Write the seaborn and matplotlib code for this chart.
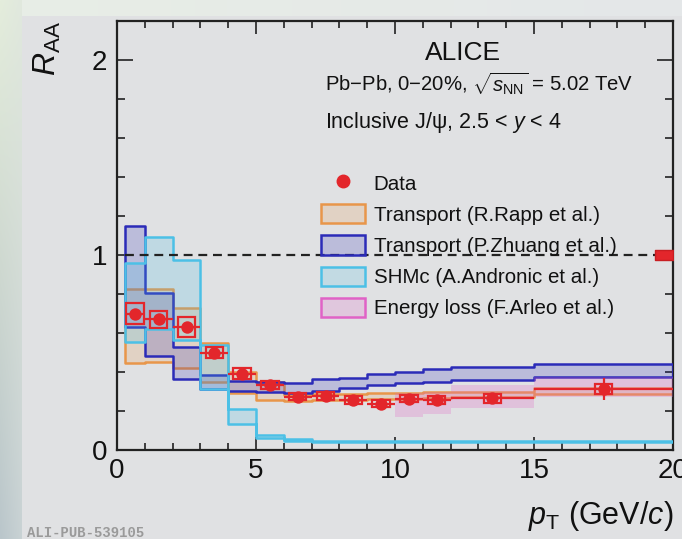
import numpy as np
import pandas as pd
import matplotlib
matplotlib.use("Agg")
import matplotlib.pyplot as plt
import seaborn as sns
from matplotlib.patches import Patch, Rectangle
from matplotlib.lines import Line2D
from matplotlib.ticker import MultipleLocator

# ---------------- data ----------------
pt_center = [0.65, 1.5, 2.5, 3.5, 4.5, 5.5, 6.5, 7.5, 8.5, 9.5, 10.5, 11.5, 13.5, 17.5]
pt_low = [0.3, 1, 2, 3, 4, 5, 6, 7, 8, 9, 10, 11, 12, 15]
pt_high = [1, 2, 3, 4, 5, 6, 7, 8, 9, 10, 11, 12, 15, 20]
raa = [0.70, 0.67, 0.63, 0.50, 0.39, 0.333, 0.274, 0.277, 0.258, 0.238, 0.264, 0.256, 0.265, 0.313]
raa_stat = [0.02, 0.02, 0.02, 0.02, 0.015, 0.012, 0.01, 0.01, 0.01, 0.012, 0.012, 0.015, 0.015, 0.057]
raa_syst = [0.055, 0.045, 0.05, 0.03, 0.028, 0.022, 0.02, 0.02, 0.02, 0.02, 0.02, 0.02, 0.022, 0.025]
global_unc = 0.025

rapp_edges = [0.3, 1, 2, 3, 4, 5, 6, 7, 8, 9, 10, 11, 12, 15, 20]
rapp_lo = [0.448, 0.453, 0.42, 0.35, 0.29, 0.256, 0.25, 0.255, 0.255, 0.26, 0.26, 0.265, 0.27, 0.286]
rapp_hi = [0.826, 0.826, 0.73, 0.55, 0.40, 0.35, 0.28, 0.285, 0.285, 0.29, 0.29, 0.295, 0.30, 0.316]

zhuang_edges = [0.3, 1, 2, 3, 4, 5, 6, 7, 8, 9, 10, 11, 12, 15, 20]
zhuang_lo = [0.63, 0.48, 0.362, 0.311, 0.304, 0.30, 0.29, 0.304, 0.316, 0.333, 0.342, 0.35, 0.359, 0.373]
zhuang_hi = [1.15, 0.807, 0.53, 0.385, 0.354, 0.35, 0.345, 0.362, 0.371, 0.388, 0.40, 0.414, 0.424, 0.441]

shmc_edges = [0.3, 1, 2, 3, 4, 5, 6, 7, 20]
shmc_lo = [0.555, 0.62, 0.565, 0.311, 0.133, 0.06, 0.048, 0.042]
shmc_hi = [0.957, 1.09, 0.974, 0.538, 0.209, 0.077, 0.055, 0.047]

eloss_edges = [10, 11, 12, 15, 20]
eloss_lo = [0.168, 0.185, 0.214, 0.273]
eloss_hi = [0.29, 0.30, 0.333, 0.373]

model_labels = ["Transport (R.Rapp et al.)", "Transport (P.Zhuang et al.)",
                "SHMc (A.Andronic et al.)", "Energy loss (F.Arleo et al.)"]

# ---------------- style ----------------
sns.set_theme(style="ticks")
FONT = ["Liberation Sans", "DejaVu Sans"]
plt.rcParams["font.family"] = FONT
plt.rcParams["mathtext.fontset"] = "custom"
plt.rcParams["mathtext.rm"] = "Liberation Sans"
plt.rcParams["mathtext.it"] = "Liberation Sans:italic"
plt.rcParams["mathtext.bf"] = "Liberation Sans:bold"

RED = "#e3262b"
ORANGE = "#e8964a"
BLUE = "#2b2bb8"
CYAN = "#4cc0e6"
PINK = "#e062c6"
BASE = np.array([224, 225, 227]) / 255.0
DARK = "#222222"

W, H = 682, 539
fig = plt.figure(figsize=(W / 100, H / 100), dpi=100)
fig.patch.set_facecolor(BASE)

# background frame (left strip + top band)
bg = fig.add_axes([0, 0, 1, 1], zorder=-10)
bg.axis("off")
img = np.tile(BASE, (H, W, 1))
rows = np.linspace(0, 1, H)[:, None]
c_top = np.array([228, 237, 220]) / 255.0
c_mid = np.array([206, 216, 208]) / 255.0
c_bot = np.array([186, 198, 203]) / 255.0
left_col = np.where(rows < 0.5,
                    c_top * (1 - rows / 0.5) + c_mid * (rows / 0.5),
                    c_mid * (1 - (rows - 0.5) / 0.5) + c_bot * ((rows - 0.5) / 0.5))
strip = 22
for c in range(strip):
    t = c / strip
    img[:, c, :] = left_col * (1 - 0.45 * t) + np.array([220, 226, 224]) / 255.0 * 0.45 * t
top_band = 16
cols = np.linspace(0, 1, W)[:, None]
band_col = np.array([232, 238, 230]) / 255.0 * (1 - cols) + np.array([228, 231, 233]) / 255.0 * cols
for r in range(top_band):
    img[r, strip:, :] = band_col[strip:]
bg.imshow(img, extent=[0, 1, 0, 1], aspect="auto", origin="upper")
bg.set_xlim(0, 1)
bg.set_ylim(0, 1)

ax_l, ax_r, ax_t, ax_b = 117, 673, 21, 450
ax = fig.add_axes([ax_l / W, 1 - ax_b / H, (ax_r - ax_l) / W, (ax_b - ax_t) / H])
ax.set_facecolor("none")
ax.set_xlim(0, 20)
ax.set_ylim(0, 2.2)


def band(edges, lo, hi, color, alpha, z, outline=True):
    lo_e = list(lo) + [lo[-1]]
    hi_e = list(hi) + [hi[-1]]
    ax.fill_between(edges, lo_e, hi_e, step="post", facecolor=color, alpha=alpha,
                    edgecolor="none", zorder=z)
    if outline:
        ax.fill_between(edges, lo_e, hi_e, step="post", facecolor="none",
                        edgecolor=color, linewidth=1.8, zorder=z + 0.1)


band(rapp_edges, rapp_lo, rapp_hi, ORANGE, 0.2, 2)
band(zhuang_edges, zhuang_lo, zhuang_hi, BLUE, 0.2, 3)
band(shmc_edges, shmc_lo, shmc_hi, CYAN, 0.22, 4)
band(eloss_edges, eloss_lo, eloss_hi, PINK, 0.25, 5, outline=False)

# unity line
ax.hlines(1, 0.3, 20, colors=DARK, linestyles=(0, (4, 2.6)), linewidth=1.6, zorder=6)

# data
df = pd.DataFrame({"pt": pt_center, "raa": raa, "lo": pt_low, "hi": pt_high,
                   "stat": raa_stat, "syst": raa_syst})
box_hw = 0.31
for _, r in df.iterrows():
    ax.add_patch(Rectangle((r.pt - box_hw, r.raa - r.syst), 2 * box_hw, 2 * r.syst,
                           fill=False, edgecolor=RED, linewidth=1.6, zorder=8))
ax.errorbar(df.pt, df.raa, xerr=[df.pt - df.lo, df.hi - df.pt], yerr=df.stat,
            fmt="none", ecolor=RED, elinewidth=1.6, capsize=0, zorder=9)
sns.scatterplot(data=df, x="pt", y="raa", ax=ax, color=RED, s=80, edgecolor=RED,
                linewidth=0, zorder=10, legend=False)
# global uncertainty box
ax.fill_between([19.35, 20], 1 - global_unc, 1 + global_unc, facecolor=RED,
                edgecolor="#c81e22", linewidth=1, zorder=7)

# axes style
for s in ax.spines.values():
    s.set_color(DARK)
    s.set_linewidth(1.6)
    s.set_visible(True)
ax.xaxis.set_major_locator(MultipleLocator(5))
ax.xaxis.set_minor_locator(MultipleLocator(1))
ax.yaxis.set_major_locator(MultipleLocator(1))
ax.yaxis.set_minor_locator(MultipleLocator(0.2))
ax.tick_params(which="both", direction="in", top=True, right=True, color=DARK, width=1.2,
               labelsize=20, labelcolor="#111111")
ax.tick_params(axis="x", which="major", length=9.2, pad=6)
ax.tick_params(axis="x", which="minor", length=4.8)
ax.tick_params(axis="y", which="major", length=11.5, pad=7)
ax.tick_params(axis="y", which="minor", length=5.8)
ax.set_xlabel("")
ax.set_ylabel("")


def fx(px):
    return px / W


def fy(py):
    return 1 - py / H


fig.text(fx(47), fy(21), r"$R_{\rm AA}$", rotation=90, ha="center", va="top",
         fontsize=23, color="#111111")
fig.text(fx(673), fy(524), r"$p_{\rm T}$ (GeV/$c$)", ha="right", va="baseline",
         fontsize=22, color="#111111")

fig.text(fx(425), fy(60), "ALICE", ha="left", va="baseline", fontsize=19, color="#111111")
fig.text(fx(325), fy(91), r"Pb$-$Pb, 0$-$20%, $\sqrt{s_{\rm NN}}$ = 5.02 TeV",
         ha="left", va="baseline", fontsize=14.6, color="#111111")
fig.text(fx(325), fy(128), r"Inclusive J/ψ, 2.5 < $y$ < 4",
         ha="left", va="baseline", fontsize=15.5, color="#111111")

handles = [Line2D([], [], marker="o", ls="none", color=RED, markersize=9)]
for c in [ORANGE, BLUE, CYAN, PINK]:
    handles.append(Patch(facecolor=matplotlib.colors.to_rgba(c, 0.2), edgecolor=c, linewidth=1.8))
labels = ["Data"] + model_labels
leg = fig.legend(handles, labels, loc="upper left", bbox_to_anchor=(fx(321), fy(173)),
                 frameon=False, fontsize=14.8, handlelength=2.15, handleheight=1.05,
                 handletextpad=0.42, labelspacing=0.52, borderpad=0, borderaxespad=0)
for t in leg.get_texts():
    t.set_color("#111111")

fig.text(fx(27), fy(537), "ALI-PUB-539105", ha="left", va="baseline", fontsize=10,
         family=["Liberation Mono", "DejaVu Sans Mono"], weight="bold", color="#9a9a9a")

fig.savefig("out.png", dpi=100, facecolor=fig.get_facecolor())
